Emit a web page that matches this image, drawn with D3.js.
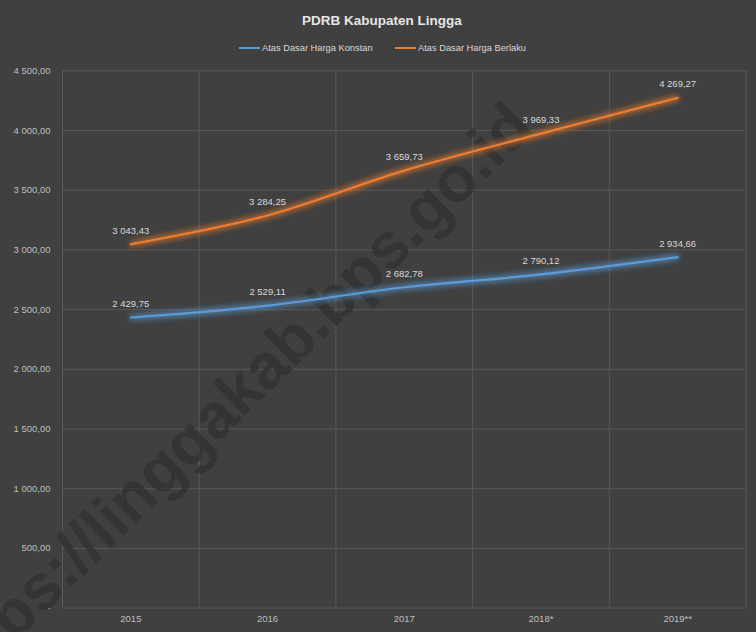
<!DOCTYPE html>
<html><head><meta charset="utf-8">
<script src="https://cdn.jsdelivr.net/npm/d3@7"></script>
<style>html,body{margin:0;padding:0;background:#404040;}svg{display:block;}</style>
</head><body>
<svg id="c" width="756" height="632"></svg>
<script>
const categories = ["2015", "2016", "2017", "2018*", "2019**"];
const konstan = [2429.75, 2529.11, 2682.78, 2790.12, 2934.66];
const berlaku = [3043.43, 3284.25, 3659.73, 3969.33, 4269.27];
const yTicks = [0, 500, 1000, 1500, 2000, 2500, 3000, 3500, 4000, 4500];
const seriesNames = ["Atas Dasar Harga Konstan", "Atas Dasar Harga Berlaku"];
const seriesColors = ["#5b9bd5", "#ed7d31"];
const title = "PDRB Kabupaten Lingga";
const watermark = "https://linggakab.bps.go.id";

(function () {
const W = 756, H = 632;
const svg = d3.select("#c");
const font = "'Liberation Sans',Arial,sans-serif";
const loc = d3.formatLocale({decimal: ",", thousands: " ", grouping: [3], currency: ["", ""]});
const fmt = loc.format(",.2f");
const yfmt = v => v === 0 ? "-" : fmt(v);

const pL = 62.5, pR = 746, pT = 70.3, pB = 607.6;
const x = d3.scaleBand().domain(categories).range([pL, pR]).padding(0);
const y = d3.scaleLinear().domain([0, 4500]).range([pB, pT]);

svg.append("rect").attr("width", W).attr("height", H).attr("fill", "#404040");

const defs = svg.append("defs");
seriesColors.forEach((c, i) => {
  const f = defs.append("filter").attr("id", "glow" + i).attr("x", "-20%").attr("y", "-50%").attr("width", "140%").attr("height", "200%");
  f.append("feGaussianBlur").attr("in", "SourceGraphic").attr("stdDeviation", 3.2).attr("result", "b");
  const m = f.append("feMerge");
  m.append("feMergeNode").attr("in", "b");
  m.append("feMergeNode").attr("in", "b");
  m.append("feMergeNode").attr("in", "SourceGraphic");
});

// grid horizontal
const yAxis = d3.axisLeft(y).tickValues(yTicks).tickSize(-(pR - pL)).tickFormat(yfmt).tickPadding(12);
const gy = svg.append("g").attr("transform", `translate(${pL},0)`).call(yAxis);
gy.select(".domain").remove();
gy.selectAll("line").attr("stroke", "#585858").attr("stroke-width", 1);
gy.selectAll("text").attr("fill", "#bfbfbf").attr("font-family", font).attr("font-size", 9.5);

// vertical grid at band boundaries
const bounds = categories.map(c => x(c)).concat([x(categories[categories.length - 1]) + x.bandwidth()]);
svg.append("g").selectAll("line").data(bounds).join("line")
  .attr("x1", d => d).attr("x2", d => d).attr("y1", pT).attr("y2", pB)
  .attr("stroke", "#585858").attr("stroke-width", 1);

// watermark
svg.append("text")
  .attr("transform", "translate(536,130) rotate(-44.5)")
  .attr("text-anchor", "end")
  .attr("font-family", "'Liberation Sans',Arial,sans-serif")
  .attr("font-weight", "bold")
  .attr("font-size", 64)
  .attr("fill", "#2f2f2f").attr("fill-opacity", 0.7)
  .text(watermark);

// x axis labels
const xAxis = d3.axisBottom(x).tickSize(0).tickPadding(8);
const gx = svg.append("g").attr("transform", `translate(0,${pB})`).call(xAxis);
gx.select(".domain").remove();
gx.selectAll("text").attr("fill", "#bfbfbf").attr("font-family", font).attr("font-size", 9.5);

// lines
const cx = c => x(c) + x.bandwidth() / 2;
const line = d3.line().x((d, i) => cx(categories[i])).y(d => y(d)).curve(d3.curveCatmullRom.alpha(0.5));
[konstan, berlaku].forEach((s, i) => {
  svg.append("path").datum(s).attr("d", line).attr("fill", "none")
    .attr("stroke", seriesColors[i]).attr("stroke-width", 2.2).attr("stroke-linecap", "round")
    .attr("filter", `url(#glow${i})`);
});

// data labels
[konstan, berlaku].forEach((s, i) => {
  svg.append("g").selectAll("text").data(s).join("text")
    .attr("x", (d, j) => cx(categories[j]))
    .attr("y", d => y(d) - 10.5)
    .attr("text-anchor", "middle")
    .attr("fill", "#d9d9d9").attr("font-family", font).attr("font-size", 9.5)
    .text(d => fmt(d));
});

// title
svg.append("text").attr("x", 382).attr("y", 25).attr("text-anchor", "middle")
  .attr("fill", "#e6e6e6").attr("font-family", font).attr("font-weight", "bold").attr("font-size", 13.5)
  .text(title);

// legend
const lg = svg.append("g");
const legX = [239, 395];
seriesNames.forEach((n, i) => {
  lg.append("line").attr("x1", legX[i]).attr("x2", legX[i] + 21).attr("y1", 48).attr("y2", 48)
    .attr("stroke", seriesColors[i]).attr("stroke-width", 2);
  lg.append("text").attr("x", legX[i] + 23).attr("y", 51.3)
    .attr("fill", "#d9d9d9").attr("font-family", font).attr("font-size", 9.3).text(n);
});
})();
</script>
</body></html>
